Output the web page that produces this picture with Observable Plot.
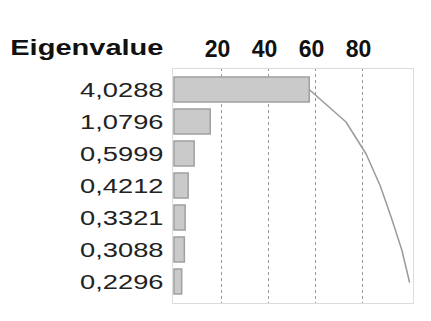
<!DOCTYPE html>
<html><head><meta charset="utf-8">
<script src="https://cdn.jsdelivr.net/npm/d3@7"></script>
<script src="https://cdn.jsdelivr.net/npm/@observablehq/plot@0.6"></script>
<style>body{margin:0;background:#fff}</style>
</head><body><div id="chart"></div>
<script>
const eigenLabels = ["4,0288", "1,0796", "0,5999", "0,4212", "0,3321", "0,3088", "0,2296"];
const percent = [57.55, 15.42, 8.57, 6.02, 4.74, 4.41, 3.28];
const cumPercent = [57.55, 72.98, 81.55, 87.57, 92.32, 96.73, 100];
const gridTicks = [20, 40, 60, 80];
const headerLabel = ["Eigenvalue"];

const rows = eigenLabels.map((label, i) => ({label, pct: percent[i], cum: cumPercent[i]}));

const chart = Plot.plot({
  width: 431, height: 321,
  marginLeft: 172, marginRight: 18, marginTop: 68, marginBottom: 18,
  style: {fontFamily: "'Liberation Sans', Arial, sans-serif", background: "#fff", overflow: "visible"},
  x: {domain: [-0.85, 101.7], axis: null},
  y: {domain: eigenLabels, axis: null, padding: 0.22},
  marks: [
    Plot.ruleX(gridTicks, {stroke: "#9a9a9a", strokeDasharray: "3,3", strokeWidth: 1}),
    Plot.barX(rows, {x1: 0, x2: "pct", y: "label", fill: "#cacaca", stroke: "#a0a0a0", strokeWidth: 1.5}),
    Plot.line(rows, {x: "cum", y: "label", stroke: "#9a9a9a", strokeWidth: 1.5}),
    Plot.frame({stroke: "#dcdcdc"}),
    Plot.axisX(gridTicks, {anchor: "top", tickSize: 0, tickPadding: 12, fontSize: 23, fontWeight: "bold", fill: "#111", dx: -4}),
    Plot.axisY({tickSize: 0, tickPadding: 9, fontSize: 21, fill: "#222", stroke: "#222", strokeWidth: 0.3, label: null}),
    Plot.text(headerLabel, {text: d => d, frameAnchor: "top-left", textAnchor: "end", lineAnchor: "bottom", dx: -9, dy: -14, fontSize: 22, fontWeight: "bold", fill: "#111"})
  ]
});

d3.select(chart).selectAll("text").each(function() {
  const s = this.textContent;
  let k = null;
  if (/^\d,\d{4}$/.test(s)) k = 1.3;
  else if (s === "Eigenvalue") k = 1.32;
  if (k) {
    const t = this.getAttribute("transform") || "";
    this.setAttribute("transform", t + ` scale(${k},1)`);
  }
});

document.getElementById("chart").appendChild(chart);
</script>
</body></html>
